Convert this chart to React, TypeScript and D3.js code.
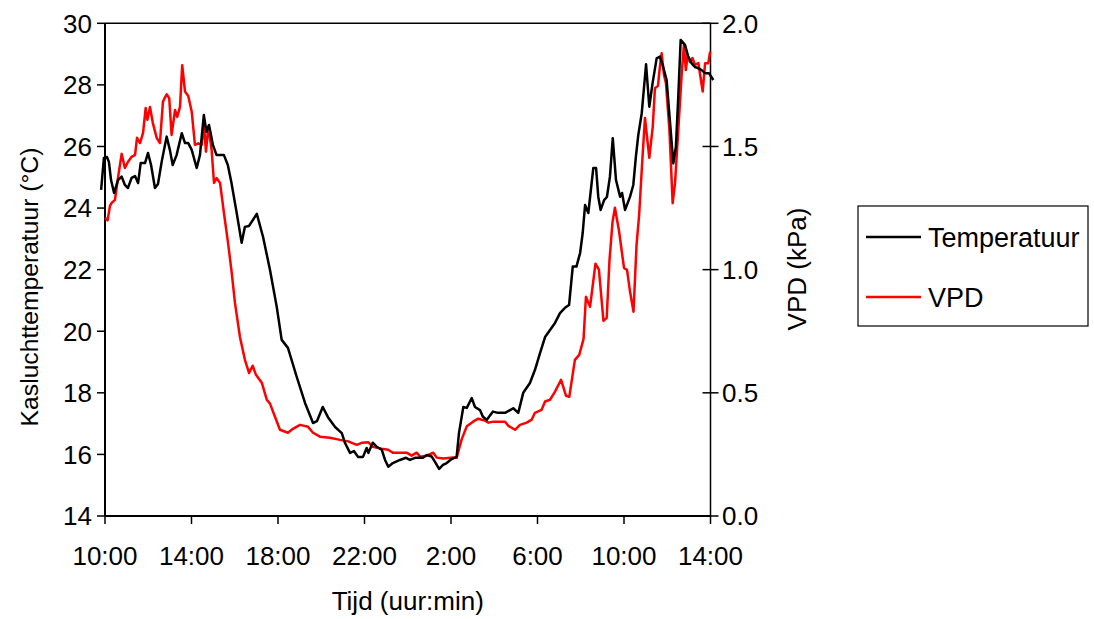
import React from "react";
import * as d3 from "d3";

const xTickHours = [0, 4, 8, 12, 16, 20, 24, 28];
const xTickLabels = ["10:00", "14:00", "18:00", "22:00", "2:00", "6:00", "10:00", "14:00"];
const tempTicks = [14, 16, 18, 20, 22, 24, 26, 28, 30];
const vpdTicks = [0, 0.5, 1.0, 1.5, 2.0];

const tempHours = [
  -0.18, -0.05, 0.09, 0.18, 0.28, 0.42, 0.6, 0.77, 0.92, 1.06, 1.23, 1.39, 1.53, 1.65, 1.85, 1.99,
  2.13, 2.31, 2.45, 2.62, 2.85, 3.0, 3.13, 3.31, 3.55, 3.7, 3.85, 4.01, 4.24, 4.39, 4.57, 4.69,
  4.81, 4.99, 5.16, 5.31, 5.5, 5.68, 5.85, 6.09, 6.32, 6.47, 6.66, 7.02, 7.31, 7.63, 7.94, 8.17,
  8.46, 8.86, 9.25, 9.62, 9.8, 10.07, 10.31, 10.64, 10.95, 11.1, 11.33, 11.51, 11.7, 11.93, 12.1,
  12.18, 12.38, 12.58, 12.8, 12.95, 13.1, 13.31, 13.64, 13.92, 14.1, 14.34, 14.7, 14.88, 15.11,
  15.26, 15.45, 15.63, 15.8, 16.03, 16.26, 16.37, 16.57, 16.73, 16.96, 17.11, 17.34, 17.47, 17.65,
  17.94, 18.17, 18.5, 18.73, 18.88, 19.11, 19.34, 19.65, 19.88, 20.12, 20.35, 20.58, 20.81, 21.04,
  21.27, 21.46, 21.63, 21.8, 21.97, 22.09, 22.2, 22.35, 22.58, 22.71, 22.81, 22.92, 23.08, 23.21,
  23.35, 23.48, 23.63, 23.82, 23.91, 24.05, 24.28, 24.43, 24.55, 24.66, 24.82, 25.02, 25.17, 25.32,
  25.51, 25.66, 25.8, 25.97, 26.12, 26.28, 26.4, 26.51, 26.62, 26.82, 26.96, 27.13, 27.28, 27.44,
  27.59, 27.75, 27.93, 28.13,
];
const tempValues = [
  24.59, 25.63, 25.66, 25.5, 24.91, 24.49, 24.91, 25.02, 24.75, 24.65, 24.98, 25.04, 24.81, 25.46, 25.46, 25.79,
  25.4, 24.65, 24.78, 25.5, 26.32, 25.89, 25.4, 25.72, 26.43, 26.11, 26.11, 25.89, 25.3, 25.72, 27.02, 26.48,
  26.7, 26.05, 25.72, 25.72, 25.72, 25.4, 24.81, 23.84, 22.87, 23.39, 23.42, 23.81, 23.06, 21.99, 20.8, 19.72,
  19.46, 18.53, 17.67, 17.02, 17.08, 17.54, 17.21, 16.89, 16.69, 16.37, 16.05, 16.11, 15.92, 15.92, 16.21,
  16.05, 16.38, 16.24, 16.15, 15.82, 15.6, 15.72, 15.82, 15.89, 15.82, 15.89, 15.89, 15.98, 15.93,
  15.76, 15.53, 15.66, 15.72, 15.85, 15.92, 16.7, 17.54, 17.51, 17.83, 17.54, 17.44, 17.23, 17.12,
  17.39, 17.35, 17.35, 17.44, 17.5, 17.35, 18.0, 18.32, 18.74, 19.3, 19.81, 20.04, 20.27, 20.59,
  20.76, 20.85, 22.1, 22.1, 22.54, 23.19, 24.1, 23.84, 25.3, 25.3, 24.37, 23.94, 24.26, 24.36,
  25.02, 26.27, 24.91, 24.37, 24.49, 23.94, 24.37, 24.75, 25.67, 26.37, 27.08, 28.67, 27.29, 28.05,
  28.86, 28.92, 28.61, 28.16, 26.86, 25.45, 25.99, 27.62, 29.46, 29.3, 28.94, 28.7, 28.58, 28.54,
  28.48, 28.38, 28.38, 28.16,
];

const vpdHours = [
  0, 0.12, 0.23, 0.31, 0.46, 0.6, 0.77, 0.92, 1.06, 1.23, 1.39, 1.48, 1.62, 1.76, 1.88, 1.96,
  2.08, 2.21, 2.39, 2.54, 2.68, 2.85, 2.97, 3.08, 3.24, 3.34, 3.47, 3.57, 3.7, 3.85, 4.01, 4.16,
  4.31, 4.47, 4.58, 4.67, 4.78, 4.93, 5.04, 5.16, 5.32, 5.5, 5.69, 5.86, 6.01, 6.24, 6.47, 6.66,
  6.83, 6.98, 7.25, 7.48, 7.63, 7.86, 8.09, 8.46, 8.69, 9.02, 9.39, 9.62, 9.94, 10.4, 10.87, 11.25,
  11.64, 11.87, 12.18, 12.39, 12.79, 13.1, 13.31, 13.95, 14.18, 14.41, 14.57, 14.88, 15.18, 15.34,
  15.64, 16.09, 16.26, 16.49, 16.73, 17.02, 17.26, 17.57, 17.73, 17.96, 18.27, 18.5, 18.65, 18.96,
  19.19, 19.5, 19.73, 19.88, 20.19, 20.35, 20.58, 20.81, 21.09, 21.32, 21.47, 21.73, 21.93, 22.13,
  22.24, 22.43, 22.68, 22.84, 23.05, 23.2, 23.33, 23.47, 23.58, 23.77, 24.0, 24.14, 24.28, 24.44,
  24.58, 24.7, 24.84, 24.97, 25.17, 25.33, 25.43, 25.57, 25.66, 25.74, 25.85, 25.94, 26.1, 26.25,
  26.36, 26.51, 26.67, 26.77, 26.86, 26.94, 27.05, 27.17, 27.28, 27.44, 27.51, 27.64, 27.75, 27.9,
  27.98,
];
const vpdValues = [
  1.21, 1.2, 1.259, 1.271, 1.283, 1.372, 1.47, 1.413, 1.437, 1.458, 1.466, 1.535, 1.514, 1.555, 1.656, 1.608,
  1.66, 1.596, 1.535, 1.514, 1.682, 1.712, 1.696, 1.547, 1.648, 1.62, 1.662, 1.83, 1.723, 1.705, 1.641, 1.506,
  1.513, 1.506, 1.587, 1.479, 1.581, 1.486, 1.352, 1.372, 1.352, 1.23, 1.109, 0.987, 0.865, 0.727, 0.634, 0.581,
  0.61, 0.573, 0.541, 0.472, 0.456, 0.403, 0.35, 0.338, 0.354, 0.37, 0.362, 0.338, 0.322, 0.318, 0.309, 0.303,
  0.289, 0.297, 0.299, 0.281, 0.273, 0.269, 0.257, 0.257, 0.245, 0.257, 0.241, 0.245, 0.257, 0.237,
  0.233, 0.237, 0.236, 0.31, 0.364, 0.383, 0.395, 0.387, 0.379, 0.383, 0.383, 0.383, 0.366, 0.35,
  0.37, 0.379, 0.391, 0.419, 0.431, 0.465, 0.472, 0.505, 0.553, 0.488, 0.484, 0.634, 0.654, 0.719,
  0.89, 0.849, 1.024, 1.0, 0.792, 0.804, 1.04, 1.194, 1.251, 1.157, 1.007, 0.999, 0.91, 0.829,
  1.101, 1.222, 1.434, 1.616, 1.454, 1.581, 1.736, 1.746, 1.824, 1.878, 1.79, 1.757, 1.567, 1.27,
  1.351, 1.567, 1.797, 1.912, 1.81, 1.871, 1.843, 1.859, 1.831, 1.839, 1.797, 1.723, 1.838, 1.838,
  1.885,
];

const legendItems = ["Temperatuur", "VPD"];
const seriesColors = ["#000000", "#ff0000"];

export default function App() {
  const W = 1094;
  const H = 619;
  const left = 105;
  const right = 710.5;
  const top = 23.3;
  const bottom = 516;
  const font = "'Liberation Sans', Arial, sans-serif";
  const fs = 26;

  const x = d3.scaleLinear().domain([0, 28]).range([left, right]);
  const yT = d3.scaleLinear().domain([14, 30]).range([bottom, top]);
  const yV = d3.scaleLinear().domain([0, 2]).range([bottom, top]);

  const tempData = tempHours.map((h, i) => [h, tempValues[i]] as [number, number]);
  const vpdData = vpdHours.map((h, i) => [h, vpdValues[i]] as [number, number]);

  const tempLine = d3
    .line<[number, number]>()
    .x((d) => x(d[0]))
    .y((d) => yT(d[1]));
  const vpdLine = d3
    .line<[number, number]>()
    .x((d) => x(d[0]))
    .y((d) => yV(d[1]));

  return (
    <svg
      width={W}
      height={H}
      style={{ position: "absolute", left: 0, top: 0, display: "block", background: "#fff" }}
      fontFamily={font}
    >
      <rect x={0} y={0} width={W} height={H} fill="#fff" />
      {/* frame */}
      <line x1={left} x2={right} y1={top} y2={top} stroke="#000" strokeWidth={1.5} />
      <line x1={left} x2={left} y1={top} y2={bottom} stroke="#000" strokeWidth={2} />
      <line x1={right} x2={right} y1={top} y2={bottom} stroke="#000" strokeWidth={1.5} />
      <line x1={left} x2={right} y1={bottom} y2={bottom} stroke="#000" strokeWidth={2} />

      {/* left ticks */}
      {tempTicks.map((t) => (
        <g key={"lt" + t}>
          <line x1={left - 8} x2={left} y1={yT(t)} y2={yT(t)} stroke="#000" strokeWidth={1.5} />
          <text x={92} y={yT(t)} dy="0.36em" textAnchor="end" fontSize={fs} fill="#000">
            {t}
          </text>
        </g>
      ))}
      {/* right ticks */}
      {vpdTicks.map((t) => (
        <g key={"rt" + t}>
          <line x1={right - 8} x2={right + 8} y1={yV(t)} y2={yV(t)} stroke="#000" strokeWidth={1.5} />
          <text x={722} y={yV(t)} dy="0.36em" textAnchor="start" fontSize={fs} fill="#000">
            {t.toFixed(1)}
          </text>
        </g>
      ))}
      {/* bottom ticks */}
      {xTickHours.map((h, i) => (
        <g key={"bt" + i}>
          <line x1={x(h)} x2={x(h)} y1={bottom} y2={bottom + 8} stroke="#000" strokeWidth={1.5} />
          <text x={x(h)} y={565} textAnchor="middle" fontSize={fs} fill="#000">
            {xTickLabels[i]}
          </text>
        </g>
      ))}

      {/* series */}
      <path d={vpdLine(vpdData) || ""} fill="none" stroke={seriesColors[1]} strokeWidth={2.5} strokeLinejoin="round" />
      <path d={tempLine(tempData) || ""} fill="none" stroke={seriesColors[0]} strokeWidth={2.5} strokeLinejoin="round" />

      {/* axis titles */}
      <text x={(left + right) / 2} y={610} textAnchor="middle" fontSize={fs} fill="#000">
        Tijd (uur:min)
      </text>
      <text
        transform={`translate(38, 287) rotate(-90)`}
        textAnchor="middle"
        fontSize={24.7}
        fill="#000"
      >
        Kasluchttemperatuur (°C)
      </text>
      <text
        transform={`translate(806, 269) rotate(-90)`}
        textAnchor="middle"
        fontSize={fs}
        fill="#000"
      >
        VPD (kPa)
      </text>

      {/* legend */}
      <rect x={858} y={206} width={230} height={120} fill="#fff" stroke="#000" strokeWidth={1.2} />
      {legendItems.map((name, i) => (
        <g key={name}>
          <line x1={866} x2={921} y1={237 + i * 60} y2={237 + i * 60} stroke={seriesColors[i]} strokeWidth={2.5} />
          <text x={928} y={237 + i * 60} dy="0.36em" fontSize={27} fill="#000">
            {name}
          </text>
        </g>
      ))}
    </svg>
  );
}
